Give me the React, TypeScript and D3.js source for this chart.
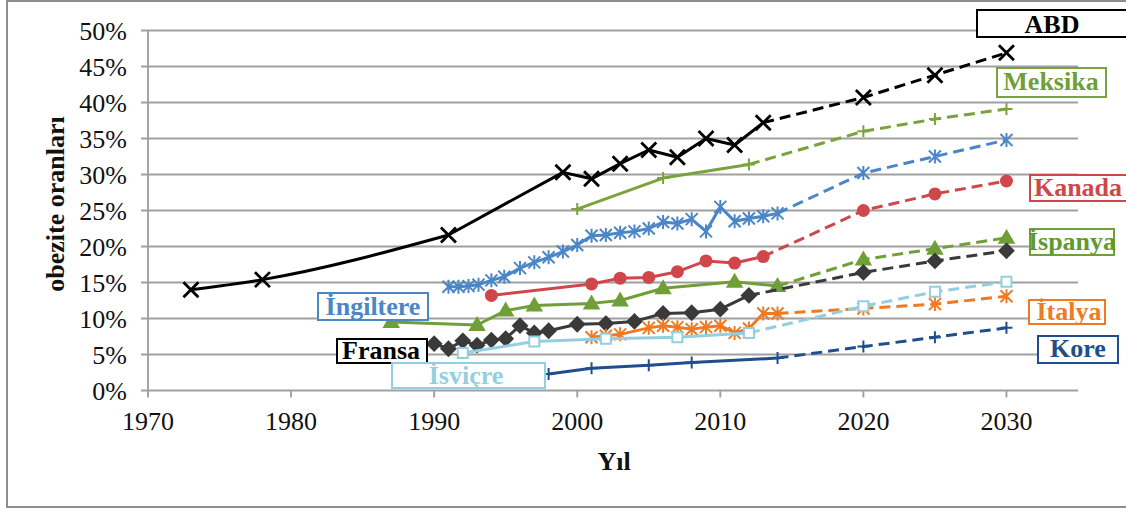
import React from "react";
import * as d3 from "d3";

// ---------- DATA ----------
const projYears = [2020, 2025, 2030];

const abdYears = [1973, 1978, 1991, 1999, 2001, 2003, 2005, 2007, 2009, 2011, 2013];
const abdValues = [14.0, 15.4, 21.6, 30.3, 29.4, 31.5, 33.4, 32.4, 35.0, 34.1, 37.2];
const abdProj = [40.7, 43.8, 46.9];

const meksikaYears = [2000, 2006, 2012];
const meksikaValues = [25.2, 29.5, 31.4];
const meksikaProj = [36.0, 37.7, 39.1];

const ingiltereYears = [1991, 1991.7, 1992.4, 1993.1, 1994, 1994.9, 1996, 1997, 1998, 1999, 2000, 2001, 2002, 2003, 2004, 2005, 2006, 2007, 2008, 2009, 2010, 2011, 2012, 2013, 2014];
const ingiltereValues = [14.4, 14.4, 14.5, 14.7, 15.3, 15.8, 17.0, 17.8, 18.5, 19.3, 20.2, 21.5, 21.6, 21.9, 22.1, 22.5, 23.4, 23.2, 23.8, 22.1, 25.5, 23.5, 23.9, 24.2, 24.6];
const ingiltereProj = [30.2, 32.5, 34.8];

const kanadaYears = [1994, 2001, 2003, 2005, 2007, 2009, 2011, 2013];
const kanadaValues = [13.2, 14.8, 15.6, 15.7, 16.5, 18.0, 17.7, 18.6];
const kanadaProj = [25.0, 27.3, 29.1];

const ispanyaYears = [1987, 1993, 1995, 1997, 2001, 2003, 2006, 2011, 2014];
const ispanyaValues = [9.5, 9.1, 11.1, 11.8, 12.1, 12.5, 14.2, 15.1, 14.5];
const ispanyaProj = [18.2, 19.7, 21.2];

const fransaYears = [1990, 1991, 1992, 1993, 1994, 1995, 1996, 1997, 1998, 2000, 2002, 2004, 2006, 2008, 2010, 2012];
const fransaValues = [6.5, 5.8, 6.9, 6.3, 7.0, 7.2, 9.0, 8.0, 8.3, 9.2, 9.3, 9.6, 10.7, 10.8, 11.3, 13.2];
const fransaProj = [16.4, 18.0, 19.4];

const italyaYears = [2001, 2002, 2003, 2005, 2006, 2007, 2008, 2009, 2010, 2011, 2012, 2013, 2014];
const italyaValues = [7.4, 7.6, 7.8, 8.7, 9.0, 8.8, 8.5, 8.8, 9.0, 8.0, 8.6, 10.7, 10.7];
const italyaProj = [11.4, 12.0, 13.1];

const isvicreYears = [1992, 1997, 2002, 2007, 2012];
const isvicreValues = [5.2, 6.8, 7.2, 7.4, 8.0];
const isvicreProj = [11.7, 13.7, 15.1];

const koreYears = [1998, 2001, 2005, 2008, 2014];
const koreValues = [2.3, 3.1, 3.5, 3.9, 4.5];
const koreProj = [6.1, 7.4, 8.7];

const yTicks = [0, 5, 10, 15, 20, 25, 30, 35, 40, 45, 50];
const xTicks = [1970, 1980, 1990, 2000, 2010, 2020, 2030];

// country names (Turkish, with precomposed dotted capital I U+0130)
const seriesNames = [
  "ABD",
  "Meksika",
  "\u0130ngiltere",
  "Kanada",
  "\u0130spanya",
  "Fransa",
  "\u0130talya",
  "\u0130svi\u00e7re",
  "Kore",
];
const seriesYears = [abdYears, meksikaYears, ingiltereYears, kanadaYears, ispanyaYears, fransaYears, italyaYears, isvicreYears, koreYears];
const seriesValues = [abdValues, meksikaValues, ingiltereValues, kanadaValues, ispanyaValues, fransaValues, italyaValues, isvicreValues, koreValues];
const seriesProj = [abdProj, meksikaProj, ingiltereProj, kanadaProj, ispanyaProj, fransaProj, italyaProj, isvicreProj, koreProj];

const yTitle = "obezite oranlar\u0131";
const xTitle = "Y\u0131l";

// ---------- STYLE / LAYOUT ----------
type Marker = "x" | "plus" | "star" | "circle" | "triangle" | "diamond" | "square";

const seriesColors = ["#000000", "#7aa33d", "#4a86c8", "#d0474b", "#6f9f36", "#3a3a3a", "#f07a22", "#93cfe0", "#1f4e8c"];
const seriesMarkers: Marker[] = ["x", "plus", "star", "circle", "triangle", "diamond", "star", "square", "plus"];
// number of leading observed points drawn smoothed
const seriesSmooth = [3, 0, 0, 0, 0, 0, 0, 0, 0];

// label boxes per series index: [x0, y0, x1, y1, textCenterX, baselineY, textColor]
const labelLayout: [number, number, number, number, number, number, string][] = [
  [977, 10, 1127, 37, 1052, 33, "#000000"],
  [997, 68, 1106, 97, 1051, 90, "#6f9f36"],
  [318, 293, 428, 320, 373, 315, "#4a86c8"],
  [1030, 175, 1128, 201, 1078, 196, "#d0474b"],
  [1030, 229, 1114, 255, 1072, 250, "#5f9a32"],
  [337, 339, 427, 363, 381, 359, "#000000"],
  [1029, 300, 1105, 324, 1069, 320, "#f07a22"],
  [392, 363, 545, 388, 466, 384, "#93cfe0"],
  [1038, 336, 1118, 363, 1078, 357, "#1f4e8c"],
];

const W = 1126;
const H = 508;
const FONT = "Liberation Serif, Times New Roman, serif";

const x = d3.scaleLinear().domain([1970, 2035]).range([148, 1078]);
const y = d3.scaleLinear().domain([0, 50]).range([390.5, 30.5]);

function markerPath(m: Marker): string {
  const s = 6;
  switch (m) {
    case "x":
      return `M${-s - 1.5},${-s - 1.5}L${s + 1.5},${s + 1.5}M${-s - 1.5},${s + 1.5}L${s + 1.5},${-s - 1.5}`;
    case "plus":
      return `M${-s},0L${s},0M0,${-s}L0,${s}`;
    case "star":
      return `M${-s},${-s}L${s},${s}M${-s},${s}L${s},${-s}M0,${-s - 1}L0,${s + 1}`;
    case "triangle":
      return `M0,-7L7,5L-7,5Z`;
    case "diamond":
      return `M0,-7L7,0L0,7L-7,0Z`;
    case "square":
      return `M-5,-5L5,-5L5,5L-5,5Z`;
    default:
      return "";
  }
}

function MarkerShape({ m, color, cx, cy }: { m: Marker; color: string; cx: number; cy: number }) {
  if (m === "circle") return <circle cx={cx} cy={cy} r={6.5} fill={color} />;
  const d = markerPath(m);
  const filled = m === "triangle" || m === "diamond";
  const hollow = m === "square";
  return (
    <path
      d={d}
      transform={`translate(${cx},${cy})`}
      fill={filled ? color : hollow ? "#ffffff" : "none"}
      stroke={color}
      strokeWidth={m === "x" ? 2.8 : 2}
      strokeLinejoin="miter"
    />
  );
}

export default function App() {
  const lineLinear = d3
    .line<[number, number]>()
    .x((d) => x(d[0]))
    .y((d) => y(d[1]));
  const lineSmooth = d3
    .line<[number, number]>()
    .x((d) => x(d[0]))
    .y((d) => y(d[1]))
    .curve(d3.curveMonotoneX);

  return (
    <div style={{ position: "absolute", left: 0, top: 0 }}>
      <svg width={W} height={H} style={{ display: "block", background: "#fff" }}>
        <rect x={7} y={1} width={1130} height={506} fill="#fff" stroke="#8e8e8e" strokeWidth={2} />
        {/* gridlines */}
        {yTicks.map((t) => (
          <line key={"g" + t} x1={141} x2={x(2035)} y1={y(t)} y2={y(t)} stroke="#a0a0a0" strokeWidth={1.9} />
        ))}
        <line x1={x(1970)} x2={x(1970)} y1={y(50)} y2={y(0)} stroke="#a0a0a0" strokeWidth={1.9} />
        {xTicks.map((t) => (
          <line key={"xt" + t} x1={x(t)} x2={x(t)} y1={y(0)} y2={y(0) + 7} stroke="#a0a0a0" strokeWidth={1.9} />
        ))}
        {/* tick labels */}
        {yTicks.map((t) => (
          <text key={"yl" + t} x={127} y={y(t) + 9} textAnchor="end" fontFamily={FONT} fontSize={26} fill="#111">
            {t + "%"}
          </text>
        ))}
        {xTicks.map((t) => (
          <text key={"xl" + t} x={x(t)} y={430} textAnchor="middle" fontFamily={FONT} fontSize={26} fill="#111">
            {t}
          </text>
        ))}
        {/* axis titles */}
        <text
          transform="translate(64,204) rotate(-90)"
          textAnchor="middle"
          fontFamily={FONT}
          fontSize={26}
          fontWeight="bold"
          fill="#111"
        >
          {yTitle}
        </text>
        <text x={614} y={470} textAnchor="middle" fontFamily={FONT} fontSize={26} fontWeight="bold" fill="#111">
          {xTitle}
        </text>

        {/* series */}
        {seriesNames.map((name, si) => {
          const color = seriesColors[si];
          const marker = seriesMarkers[si];
          const obs: [number, number][] = seriesYears[si].map((yr, i) => [yr, seriesValues[si][i]]);
          const last = obs[obs.length - 1];
          const proj: [number, number][] = [
            last,
            ...projYears.map((yr, i) => [yr, seriesProj[si][i]] as [number, number]),
          ];
          const n = seriesSmooth[si];
          const smoothPart = n > 1 ? obs.slice(0, n) : [];
          const linearPart = n > 1 ? obs.slice(n - 1) : obs;
          return (
            <g key={name}>
              {smoothPart.length > 0 && (
                <path d={lineSmooth(smoothPart) || ""} fill="none" stroke={color} strokeWidth={3} />
              )}
              <path d={lineLinear(linearPart) || ""} fill="none" stroke={color} strokeWidth={3} strokeLinejoin="round" />
              <path d={lineLinear(proj) || ""} fill="none" stroke={color} strokeWidth={3} strokeDasharray="11,6" />
              {obs.map((p, i) => (
                <MarkerShape key={"o" + i} m={marker} color={color} cx={x(p[0])} cy={y(p[1])} />
              ))}
              {proj.slice(1).map((p, i) => (
                <MarkerShape key={"p" + i} m={marker} color={color} cx={x(p[0])} cy={y(p[1])} />
              ))}
            </g>
          );
        })}

        {/* labels */}
        {seriesNames.map((name, si) => {
          const [x0, y0, x1, y1, tx, ty, tc] = labelLayout[si];
          const bc = si === 1 || si === 4 ? seriesColors[si] : tc;
          return (
            <g key={"lab" + si}>
              <rect x={x0} y={y0} width={x1 - x0} height={y1 - y0} fill="#fff" stroke={bc} strokeWidth={2} />
              <text x={tx} y={ty} textAnchor="middle" fontFamily={FONT} fontSize={26} fontWeight="bold" fill={tc}>
                {name}
              </text>
            </g>
          );
        })}
      </svg>
    </div>
  );
}
